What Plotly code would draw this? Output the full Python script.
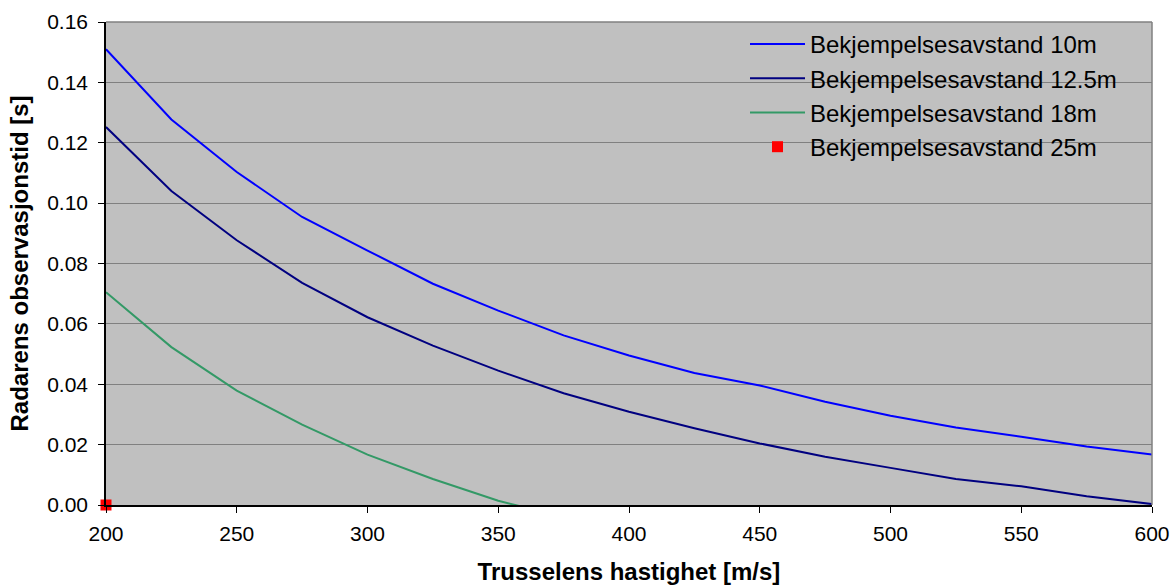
import plotly.graph_objects as go

# Data
speed = [200, 225, 250, 275, 300, 325, 350, 375, 400, 425, 450, 475, 500, 525, 550, 575, 600]
t_10m = [0.1510, 0.1277, 0.1103, 0.0954, 0.0843, 0.0733, 0.0644, 0.0562, 0.0495, 0.0437,
         0.0396, 0.0342, 0.0296, 0.0257, 0.0226, 0.0194, 0.0167]
t_12_5m = [0.1252, 0.1040, 0.0877, 0.0736, 0.0622, 0.0528, 0.0445, 0.0370, 0.0309, 0.0254,
           0.0204, 0.0160, 0.0123, 0.0086, 0.0062, 0.0029, 0.0003]
speed_18m = [200, 225, 250, 275, 300, 325, 350, 375]
t_18m = [0.0705, 0.0523, 0.0379, 0.0266, 0.0167, 0.0086, 0.0014, -0.0040]
speed_25m = [200]
t_25m = [0.0]

names = ["Bekjempelsesavstand 10m", "Bekjempelsesavstand 12.5m",
         "Bekjempelsesavstand 18m", "Bekjempelsesavstand 25m"]
x_title = "Trusselens hastighet [m/s]"
y_title = "Radarens observasjonstid [s]"

FONT = "Arial, Liberation Sans, sans-serif"

fig = go.Figure()
fig.add_trace(go.Scatter(x=speed, y=t_10m, mode="lines", name=names[0],
                         line=dict(color="#0000FF", width=2)))
fig.add_trace(go.Scatter(x=speed, y=t_12_5m, mode="lines", name=names[1],
                         line=dict(color="#000080", width=2)))
fig.add_trace(go.Scatter(x=speed_18m, y=t_18m, mode="lines", name=names[2],
                         line=dict(color="#339966", width=2)))
fig.add_trace(go.Scatter(x=speed_25m, y=t_25m, mode="markers", name=names[3],
                         marker=dict(color="#FF0000", symbol="square", size=11),
                         cliponaxis=False))

fig.update_layout(
    width=1170, height=585,
    margin=dict(l=106, r=18, t=22, b=80, autoexpand=False),
    paper_bgcolor="white",
    plot_bgcolor="#C0C0C0",
    font=dict(family=FONT, color="black", size=20),
    showlegend=True,
    legend=dict(x=0.6109, y=1.0, xanchor="left", yanchor="top",
                bgcolor="rgba(0,0,0,0)", borderwidth=0, itemwidth=55,
                font=dict(family=FONT, size=24, color="black"),
                tracegroupgap=0),
    shapes=[
        # legend background covering gridlines
        dict(type="rect", xref="paper", yref="paper", x0=(732-106)/1046, x1=(1143-106)/1046,
             y0=(505-168)/483, y1=1, fillcolor="#C0C0C0", line=dict(width=0), layer="between"),
        # top and right borders of plot area
        dict(type="line", xref="paper", yref="paper", x0=0, x1=1, y0=1, y1=1,
             line=dict(color="#808080", width=1.5), layer="above"),
        dict(type="line", xref="paper", yref="paper", x0=1, x1=1, y0=0, y1=1,
             line=dict(color="#808080", width=1.5), layer="above"),
    ],
)

fig.update_xaxes(
    range=[200, 600], dtick=50, tick0=200, automargin=False,
    showgrid=False, zeroline=False,
    showline=True, linecolor="black", linewidth=1.5,
    ticks="outside", ticklen=6, tickcolor="black", tickwidth=1,
    ticklabelstandoff=3,
    tickfont=dict(family=FONT, size=21, color="black"),
    title=dict(text=x_title, font=dict(family=FONT, size=24, color="black", weight="bold"),
               standoff=20),
)
fig.update_yaxes(
    range=[0, 0.16], dtick=0.02, tick0=0, tickformat=".2f", automargin=False,
    showgrid=True, gridcolor="#808080", gridwidth=1,
    zeroline=False,
    showline=True, linecolor="black", linewidth=1.5,
    ticks="outside", ticklen=6, tickcolor="black", tickwidth=1,
    ticklabelstandoff=6,
    tickfont=dict(family=FONT, size=21, color="black"),
    title=dict(text=y_title, font=dict(family=FONT, size=24, color="black", weight="bold"),
               standoff=12),
)

fig.write_html("out.html")
